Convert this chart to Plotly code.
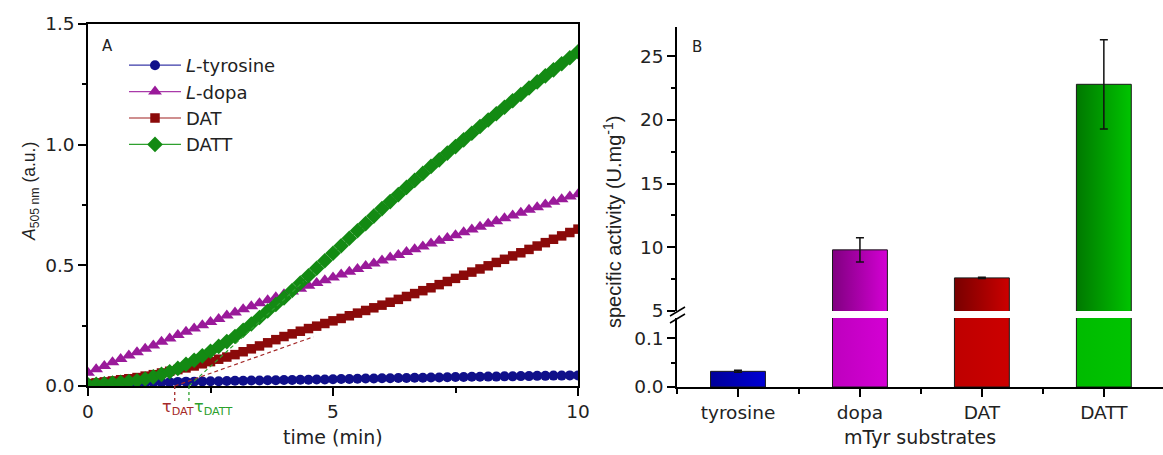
import plotly.graph_objects as go

W, H = 1163, 455
FONT = "DejaVu Sans, Liberation Sans, Arial, sans-serif"
FONT_V = "Liberation Sans, Arial, sans-serif"   # rotated axis titles
INK = "#222222"

# ---------------- Panel A: absorbance at 505 nm vs time ----------------
time_s = [0, 10, 20, 30, 40, 50, 60, 70, 80, 90, 100, 110, 120, 130, 140, 150,
          160, 170, 180, 190, 200, 210, 220, 230, 240, 250, 260, 270, 280, 290,
          300, 310, 320, 330, 340, 350, 360, 370, 380, 390, 400, 410, 420, 430,
          440, 450, 460, 470, 480, 490, 500, 510, 520, 530, 540, 550, 560, 570,
          580, 590, 600]

abs_tyrosine = [0.000, 0.002, 0.004, 0.006, 0.008, 0.010, 0.012, 0.013, 0.014,
                0.015, 0.016, 0.017, 0.018, 0.018, 0.019, 0.020, 0.020, 0.021,
                0.022, 0.022, 0.023, 0.023, 0.024, 0.024, 0.025, 0.025, 0.026,
                0.026, 0.027, 0.027, 0.028, 0.029, 0.029, 0.030, 0.031, 0.031,
                0.032, 0.032, 0.033, 0.033, 0.034, 0.034, 0.035, 0.035, 0.036,
                0.037, 0.037, 0.038, 0.038, 0.039, 0.039, 0.040, 0.040, 0.041,
                0.041, 0.042, 0.042, 0.043, 0.043, 0.044, 0.044]

abs_dopa = [0.055, 0.069, 0.083, 0.098, 0.112, 0.126, 0.140, 0.154, 0.168,
            0.183, 0.197, 0.211, 0.225, 0.238, 0.252, 0.265, 0.278, 0.292,
            0.305, 0.318, 0.330, 0.343, 0.355, 0.368, 0.380, 0.392, 0.403,
            0.415, 0.427, 0.438, 0.450, 0.462, 0.473, 0.485, 0.497, 0.508,
            0.520, 0.532, 0.543, 0.555, 0.567, 0.578, 0.590, 0.602, 0.613,
            0.625, 0.637, 0.648, 0.660, 0.672, 0.683, 0.695, 0.707, 0.718,
            0.730, 0.741, 0.752, 0.763, 0.774, 0.785, 0.795]

abs_dat = [0.010, 0.013, 0.017, 0.021, 0.026, 0.030, 0.035, 0.041, 0.047,
           0.054, 0.061, 0.068, 0.075, 0.083, 0.092, 0.101, 0.111, 0.120,
           0.130, 0.142, 0.154, 0.166, 0.179, 0.192, 0.205, 0.216, 0.227,
           0.238, 0.248, 0.259, 0.270, 0.280, 0.291, 0.302, 0.313, 0.324,
           0.335, 0.347, 0.359, 0.371, 0.383, 0.395, 0.407, 0.420, 0.433,
           0.446, 0.459, 0.472, 0.485, 0.498, 0.512, 0.525, 0.539, 0.552,
           0.566, 0.580, 0.594, 0.608, 0.622, 0.636, 0.650]

abs_datt = [0.005, 0.007, 0.009, 0.012, 0.015, 0.018, 0.022, 0.029, 0.038,
            0.048, 0.059, 0.073, 0.090, 0.107, 0.125, 0.144, 0.164, 0.184,
            0.205, 0.231, 0.257, 0.284, 0.311, 0.338, 0.365, 0.396, 0.427,
            0.457, 0.488, 0.519, 0.550, 0.581, 0.612, 0.643, 0.673, 0.704,
            0.735, 0.764, 0.793, 0.823, 0.852, 0.881, 0.910, 0.937, 0.965,
            0.992, 1.020, 1.047, 1.075, 1.102, 1.128, 1.155, 1.182, 1.208,
            1.235, 1.260, 1.285, 1.310, 1.335, 1.360, 1.385]

# lag times (x-intercepts of the tangents) and tangent slopes
lag_names = ["DAT", "DATT"]
lag_tau = [1.77, 2.06]
lag_slope = [0.072, 0.185]
lag_tangent_end = [4.6, 4.4]
lag_colors = ["#a52a2a", "#2ca02c"]

kinetic_series = [
    ("<i>L</i>-tyrosine", abs_tyrosine, "#10108a", "#3a3aa8", "circle", 10),
    ("<i>L</i>-dopa", abs_dopa, "#9a1a9a", "#a93aa9", "triangle-up", 12),
    ("DAT", abs_dat, "#8b0a0a", "#a02020", "square", 9.5),
    ("DATT", abs_datt, "#138a13", "#2ea02e", "diamond", 12),
]

# ---------------- Panel B: specific activity ----------------
substrates = ["tyrosine", "dopa", "DAT", "DATT"]
activity = [0.032, 9.8, 7.6, 22.8]
activity_err = [0.002, 0.95, 0.05, 3.5]
bar_gradients = [("#00009a", "#0000d4"), ("#800080", "#d400d4"),
                 ("#780000", "#cc0000"), ("#007800", "#00c400")]
bar_width = 0.45

# broken axis: lower segment 0..0.141, upper segment 5..27.3
low_range = [0, 0.141]
high_range = [5, 27.3]

time_min = [t / 60 for t in time_s]

fig = go.Figure()

for name, vals, mcol, lcol, sym, size in kinetic_series:
    fig.add_trace(go.Scatter(
        x=time_min, y=vals, name=name, mode="lines+markers",
        line=dict(color=lcol, width=1.2),
        marker=dict(symbol=sym, size=size, color=mcol, line=dict(width=0)),
        xaxis="x", yaxis="y"))

for tau, slope, t_end, col in zip(lag_tau, lag_slope, lag_tangent_end, lag_colors):
    fig.add_trace(go.Scatter(
        x=[tau, t_end], y=[0, slope * (t_end - tau)], mode="lines",
        line=dict(color=col, width=1.2, dash="4px,3px"),
        showlegend=False, hoverinfo="skip", xaxis="x", yaxis="y"))

# bars as gradient-filled rectangles, drawn in both segments of the broken axis
for yax in ("y2", "y3"):
    for i, (val, (c0, c1)) in enumerate(zip(activity, bar_gradients)):
        xl, xr = i - bar_width / 2, i + bar_width / 2
        fig.add_trace(go.Scatter(
            x=[xl, xl, xr, xr, xl], y=[0, val, val, 0, 0],
            mode="lines", fill="toself",
            fillgradient=dict(type="horizontal", colorscale=[[0, c0], [1, c1]]),
            line=dict(color="#1a1a1a", width=1, simplify=False),
            showlegend=False, hoverinfo="skip", xaxis="x2", yaxis=yax))

for i, (val, err) in enumerate(zip(activity, activity_err)):
    yax = "y3" if val >= high_range[0] else "y2"
    fig.add_trace(go.Scatter(
        x=[i], y=[val], mode="markers",
        marker=dict(size=1, color="rgba(0,0,0,0)"),
        error_y=dict(type="data", array=[err], color="#111111",
                     thickness=1.5, width=4),
        showlegend=False, hoverinfo="skip", xaxis="x2", yaxis=yax))

# ---------------- axes ----------------
xa_dom = [88 / W, 578 / W]
ya_dom = [1 - 386 / H, 1 - 24 / H]
xb_dom = [677 / W, 1.0]
yb_low_dom = [1 - 387 / H, 1 - 318 / H]
yb_high_dom = [1 - 311 / H, 1 - 27 / H]

tickfont = dict(family=FONT, size=18.5, color=INK)
common = dict(showgrid=False, zeroline=False, showline=True, linecolor="black",
              linewidth=1.5, ticks="outside", ticklen=8, tickwidth=1.5,
              tickcolor="black", tickfont=tickfont, automargin=False)
mirror_ticks = dict(showgrid=False, zeroline=False, showline=False,
                    ticks="inside", ticklen=5, tickwidth=1.5, tickcolor="black",
                    showticklabels=False, automargin=False)

fig.update_layout(
    xaxis=dict(domain=xa_dom, anchor="y", range=[0, 10], tick0=0, dtick=5,
               mirror=True,
               minor=dict(dtick=2.5, ticklen=5, ticks="outside", tickwidth=1.5,
                          tickcolor="black"), **common),
    yaxis=dict(domain=ya_dom, anchor="x", range=[0, 1.5], tick0=0, dtick=0.5,
               tickformat=".1f", mirror=True,
               minor=dict(dtick=0.25, ticklen=4, ticks="outside", tickwidth=1.5,
                          tickcolor="black"), **common),
    xaxis3=dict(overlaying="x", anchor="y", side="top", range=[0, 10],
                tick0=0, dtick=2.5, **mirror_ticks),
    yaxis4=dict(overlaying="y", anchor="x", side="right", range=[0, 1.5],
                tick0=0, dtick=0.25, **mirror_ticks),
    xaxis2=dict(domain=xb_dom, anchor="y2", range=[-0.5, 3.485],
                tickmode="array", tickvals=[0, 1, 2, 3], ticktext=substrates,
                minor=dict(tick0=0.5, dtick=1, ticklen=5, ticks="outside",
                           tickwidth=1.5, tickcolor="black"), **common),
    yaxis2=dict(domain=yb_low_dom, anchor="x2", range=low_range, tick0=0,
                dtick=0.1, tickformat=".1f",
                minor=dict(dtick=0.05, ticklen=4, ticks="outside", tickwidth=1.5,
                           tickcolor="black"), **common),
    yaxis3=dict(domain=yb_high_dom, anchor="x2", range=high_range, tick0=0,
                dtick=5,
                minor=dict(dtick=2.5, ticklen=4, ticks="outside", tickwidth=1.5,
                           tickcolor="black"), **common),
    xaxis4=dict(overlaying="x2", anchor="y3", side="top", range=[-0.5, 3.485],
                tickmode="array", tickvals=[0, 1, 2, 3],
                **{**mirror_ticks, "showline": True, "linecolor": "black",
                   "linewidth": 1.5}),
    yaxis5=dict(overlaying="y3", anchor="x2", side="right", range=high_range,
                tick0=0, dtick=2.5, **mirror_ticks),
    yaxis6=dict(overlaying="y2", anchor="x2", side="right", range=low_range,
                tick0=0, dtick=0.05, **mirror_ticks),
)

# ---------------- lag-time markers below the time axis ----------------
shapes = []
annotations = []
for name, tau, col, anchor, shift in zip(lag_names, lag_tau, lag_colors,
                                         ["center", "left"], [3, 3]):
    shapes.append(dict(type="line", xref="x", yref="paper", x0=tau, x1=tau,
                       y0=ya_dom[0], y1=ya_dom[0] - 17 / H,
                       line=dict(color=col, width=1.3, dash="3px,3px")))
    annotations.append(dict(xref="x", yref="paper", x=tau, y=1 - 407 / H,
                            xanchor=anchor, yanchor="middle", xshift=shift,
                            showarrow=False, text=f"τ<sub>{name}</sub>",
                            font=dict(family=FONT, size=16, color=col)))

# axis-break slashes on the activity axis
for dy in (0, 7):
    shapes.append(dict(type="line", xref="paper", yref="paper",
                       x0=670 / W, x1=685 / W,
                       y0=1 - (316 + dy) / H, y1=1 - (307 + dy) / H,
                       line=dict(color="black", width=1.5)))

titlefont = dict(family=FONT, size=19, color=INK)


def label(x_px, y_px, text, font, angle=0):
    return dict(xref="paper", yref="paper", x=x_px / W, y=1 - y_px / H,
                xanchor="center", yanchor="middle", text=text,
                showarrow=False, font=font, textangle=angle)


annotations += [
    label(107, 46, "A", dict(family=FONT, size=15, color=INK)),
    label(697, 47, "B", dict(family=FONT, size=15, color=INK)),
    label((xa_dom[0] + xa_dom[1]) / 2 * W, 437, "time (min)", titlefont),
    label((xb_dom[0] + xb_dom[1]) / 2 * W, 437, "mTyr substrates", titlefont),
    label(30, 192, "<i>A</i><sub>505 nm</sub> (a.u.)",
          dict(family=FONT_V, size=17.5, color=INK), -90),
    label(612, 222, "specific activity (U.mg<sup>-1</sup>)",
          dict(family=FONT_V, size=20, color=INK), -90),
]

fig.update_layout(
    width=W, height=H, autosize=False,
    margin=dict(l=0, r=0, t=0, b=0, pad=0, autoexpand=False),
    paper_bgcolor="white", plot_bgcolor="white",
    font=dict(family=FONT, color=INK),
    shapes=shapes, annotations=annotations,
    legend=dict(x=124 / W, y=1 - 47 / H, xanchor="left", yanchor="top",
                bgcolor="rgba(0,0,0,0)", itemwidth=52,
                font=dict(family=FONT, size=18, color=INK),
                tracegroupgap=0),
)

fig.write_html("out.html", config={"responsive": False},
               post_script="document.body.style.margin='0';")
